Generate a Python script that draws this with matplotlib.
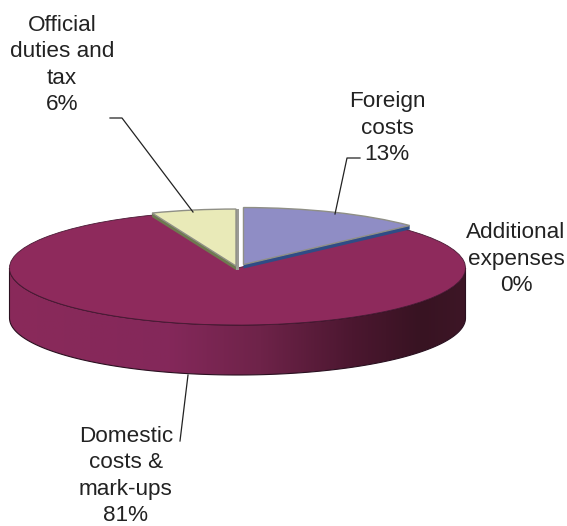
import numpy as np
import matplotlib
matplotlib.use("Agg")
import matplotlib.pyplot as plt
from matplotlib.colors import LinearSegmentedColormap
from matplotlib.patches import Polygon

plt.rcParams['font.family'] = ['Liberation Sans', 'DejaVu Sans']

# data
categories = ["Foreign\ncosts", "Additional\nexpenses", "Domestic\ncosts &\nmark-ups", "Official\nduties and\ntax"]
values = [13, 0, 81, 6]

# look
W, H = 567, 526
CX, CY = 237.5, 268     # pie centre, pixels
RX, RY = 228, 57        # ellipse semi axes, pixels
DEPTH = 50 / RY         # height of the disc in y units
explode = [0.066, 0, 0, 0.035]
top_colors = ["#8F8DC5", "#8F8DC5", "#8E2A5C", "#E9EAB8"]
side_colors = ["#2F4C86", "#2F4C86", "#8E2A5C", "#6E7A50"]
side_depth = 4 / RY

fig = plt.figure(figsize=(W / 100, H / 100), dpi=100)
ax = fig.add_axes([0, 0, 1, 1])

# pie with the aspect released, so circles turn into ellipses
wedges, _ = ax.pie(values, colors=top_colors, startangle=90, counterclock=False,
                   explode=explode, wedgeprops={"linewidth": 0})
ax.set_aspect("auto")

# front wall of the big slice with a horizontal gradient
t = np.radians(np.linspace(180, 360, 200))
wall_xy = np.r_[np.c_[np.cos(t), np.sin(t)], np.c_[np.cos(t[::-1]), np.sin(t[::-1]) - DEPTH]]
wall = Polygon(wall_xy, closed=True, facecolor="none", edgecolor="#2a1020", linewidth=0.8, zorder=2)
ax.add_patch(wall)
cmap = LinearSegmentedColormap.from_list("wall", [(0, "#8A2A5A"), (0.35, "#84285A"), (0.55, "#6E2349"),
                                                  (0.75, "#4C1730"), (0.9, "#381322"), (1, "#3D1626")])
grad = ax.imshow(np.linspace(0, 1, 256).reshape(1, -1), cmap=cmap, aspect="auto",
                 extent=(-1, 1, -1 - DEPTH, 0), zorder=1)
grad.set_clip_path(wall)

wedges[2].set_zorder(3)
wedges[2].set_edgecolor("#4a1a35")
wedges[2].set_linewidth(0.6)

# the two small slices get a thin wall of their own
for i in (0, 3):
    w = wedges[i]
    cx, cy = w.center
    # front edge: the one running from the centre to the outer tip
    a = np.radians(w.theta1 if i == 0 else w.theta2)
    tip = (cx + np.cos(a) * w.r, cy + np.sin(a) * w.r)
    side = Polygon([(cx, cy), tip, (tip[0], tip[1] - side_depth), (cx, cy - side_depth)],
                   closed=True, facecolor=side_colors[i], edgecolor="none", zorder=4)
    ax.add_patch(side)
    w.set_zorder(5)
    w.set_edgecolor("#8f8f86")
    w.set_linewidth(1.0)
wedges[1].set_visible(False)

# grey back side of the yellow slice
w = wedges[3]
ax.add_patch(Polygon([(w.center[0], w.center[1]), (w.center[0], w.center[1] + w.r),
                      (w.center[0] + 3 / RX, w.center[1] + w.r), (w.center[0] + 3 / RX, w.center[1] - side_depth),
                      (w.center[0], w.center[1] - side_depth)],
                     closed=True, facecolor="#9b9b95", edgecolor="none", zorder=4))

ax.set_xlim(-CX / RX, (W - CX) / RX)
ax.set_ylim((CY - H) / RY, CY / RY)
ax.axis("off")

# overlay in pixel coordinates for leaders and labels
ov = fig.add_axes([0, 0, 1, 1], facecolor="none")
ov.set_xlim(0, W)
ov.set_ylim(H, 0)
ov.axis("off")

leaders = [([360, 347, 335], [158, 158, 214]),
           ([110, 122, 193], [118, 118, 212]),
           ([188, 180], [375, 441])]
for lx, ly in leaders:
    ov.plot(lx, ly, color="#222222", linewidth=0.9, zorder=6)

label_pos = [(387, 128), (516, 259), (126, 476), (62, 65)]
for cat, v, (x, y) in zip(categories, values, label_pos):
    ov.text(x, y, "%s\n%d%%" % (cat, v), ha="center", va="center", fontsize=16.2,
            color="#222222", linespacing=1.33, zorder=7)

plt.savefig("out.png", dpi=100)
